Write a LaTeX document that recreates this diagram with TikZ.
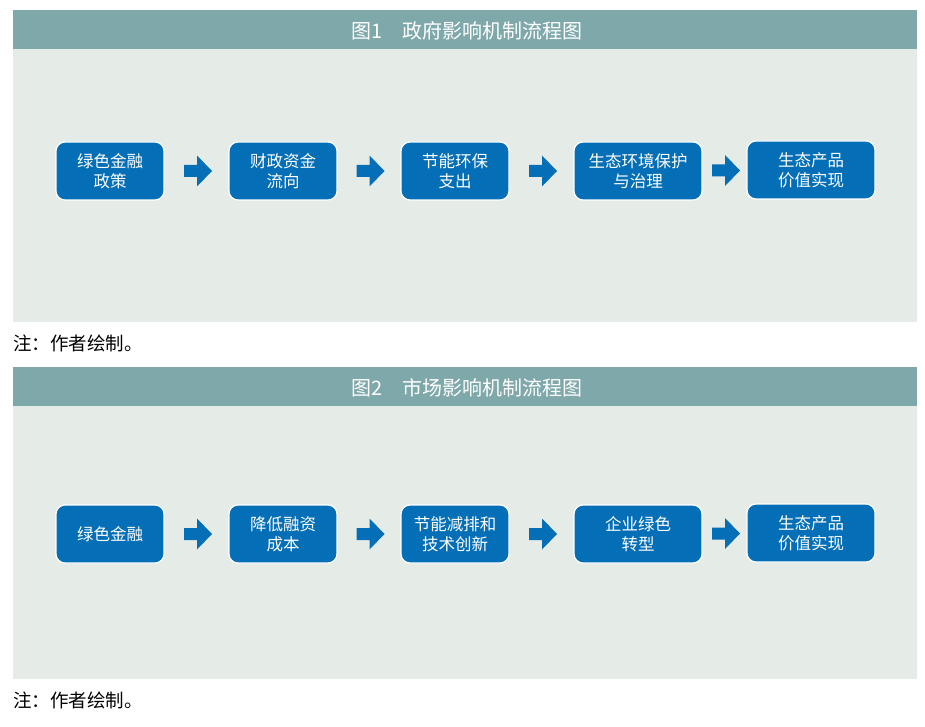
\documentclass[tikz,border=0pt]{standalone}
\usepackage{fontspec}
\setmainfont{Noto Sans CJK SC}
\usetikzlibrary{calc}
\definecolor{titleteal}{RGB}{127,168,170}
\definecolor{panelgrey}{RGB}{229,236,232}
\definecolor{flowblue}{RGB}{4,110,182}
\tikzset{
  flowbox/.style={fill=flowblue, draw=white, line width=1.2pt, rounded corners=9pt,
    text=white, font=\fontsize{16.5}{20}\selectfont, align=center,
    minimum width=108pt, minimum height=58pt, inner sep=0pt},
  widebox/.style={flowbox, minimum width=128pt},
  paneltitle/.style={text=white, font=\fontsize{20}{24}\selectfont, inner sep=0pt},
  notetext/.style={anchor=west, font=\fontsize{18.5}{22}\selectfont, inner sep=0pt},
}
\newcommand{\flowarrow}[2]{%
  \coordinate (m) at ($(#1.east)!0.5!(#2.west)+(1.5,0)$);
  \fill[flowblue] ($(m)+(-14,-6)$) -- ++(13,0) -- ++(0,-9.5) -- ++(15,15.5)
    -- ++(-15,15.5) -- ++(0,-9.5) -- ++(-13,0) -- cycle;}

\begin{document}
\begin{tikzpicture}[x=1pt, y=-1pt]
\useasboundingbox (0,0) rectangle (925,727);
% panel 1
\fill[titleteal] (13,10) rectangle (917,49);
\fill[panelgrey] (13,49) rectangle (917,322);
\node[paneltitle] (t1) at (467,31) {图1\hspace{1em}政府影响机制流程图};
\node[flowbox] (g1) at (110,171) {绿色金融\\政策};
\node[flowbox] (g2) at (283,171) {财政资金\\流向};
\node[flowbox] (g3) at (455,171) {节能环保\\支出};
\node[widebox] (g4) at (638,171) {生态环境保护\\与治理};
\node[widebox] (g5) at (811,170) {生态产品\\价值实现};
\flowarrow{g1}{g2}\flowarrow{g2}{g3}\flowarrow{g3}{g4}\flowarrow{g4}{g5}
\node[notetext] (n1) at (13,343) {注：作者绘制。};
% panel 2
\fill[titleteal] (13,367) rectangle (917,406);
\fill[panelgrey] (13,406) rectangle (917,679);
\node[paneltitle] (t2) at (467,388) {图2\hspace{1em}市场影响机制流程图};
\node[flowbox] (s1) at (110,534) {绿色金融};
\node[flowbox] (s2) at (283,534) {降低融资\\成本};
\node[flowbox] (s3) at (455,534) {节能减排和\\技术创新};
\node[widebox] (s4) at (638,534) {企业绿色\\转型};
\node[widebox] (s5) at (811,533) {生态产品\\价值实现};
\flowarrow{s1}{s2}\flowarrow{s2}{s3}\flowarrow{s3}{s4}\flowarrow{s4}{s5}
\node[notetext] (n2) at (13,700) {注：作者绘制。};
\end{tikzpicture}
\end{document}
